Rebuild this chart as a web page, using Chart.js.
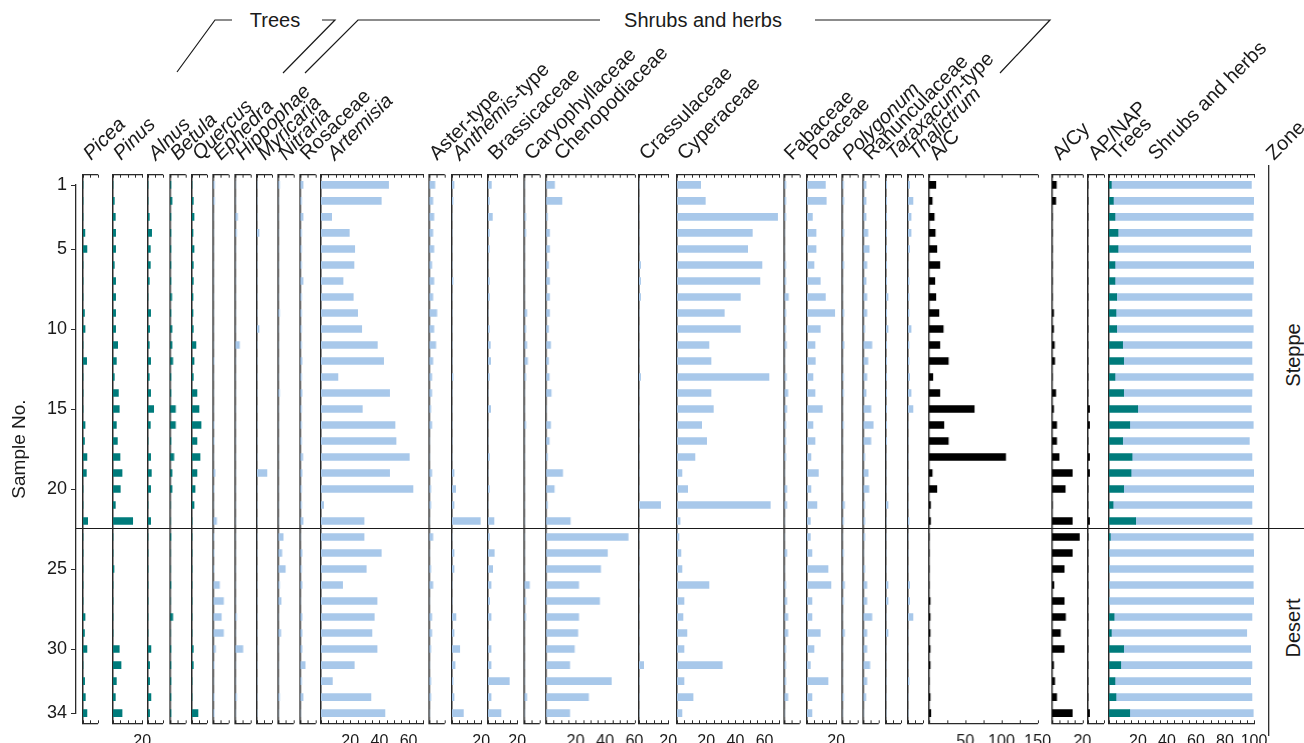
<!DOCTYPE html>
<html>
<head>
<meta charset="utf-8">
<script src="https://cdn.jsdelivr.net/npm/chart.js@4.4.0/dist/chart.umd.min.js"></script>
<style>
body { margin:0; background:#fff; width:1304px; height:743px; overflow:hidden; position:relative;
       font-family:"Liberation Sans", Arial, sans-serif; color:#1a1a1a; }
.pn { position:absolute; }
.lab { position:absolute; white-space:nowrap; transform-origin:0 100%; font-size:20px; line-height:20px; }
.grp { position:absolute; font-size:20px; white-space:nowrap; transform:translate(-50%,-50%); }
.zone { position:absolute; font-size:20px; white-space:nowrap; transform:translate(-50%,-50%) rotate(-90deg); }
</style>
</head>
<body>
<svg id="deco" width="1304" height="743" style="position:absolute;left:0;top:0">
  <g stroke="#1a1a1a" stroke-width="1.2" fill="none">
    <polyline points="232,20 215,20 177,72"/>
    <polyline points="322,20 335,20 283,73"/>
    <polyline points="600,20 358,20 305,73"/>
    <polyline points="815,20 1050,20 1000,73"/>
    <line x1="76" y1="528.5" x2="1304" y2="528.5"/>
    <line x1="1268.7" y1="165" x2="1268.7" y2="736"/>
  </g>
</svg>
<div class="grp" style="left:275px;top:20px">Trees</div>
<div class="grp" style="left:703px;top:20px">Shrubs and herbs</div>
<div class="zone" style="left:1293px;top:355px">Steppe</div>
<div class="zone" style="left:1293px;top:628px">Desert</div>
<div id="wrap"></div>

<script>
// sample numbers (y axis)
const samples = [1,2,3,4,5,6,7,8,9,10,11,12,13,14,15,16,17,18,19,20,21,22,23,24,25,26,27,28,29,30,31,32,33,34];
const yTicks = [1,5,10,15,20,25,30,34];

// trees (%)
const picea   = [0,0,0,1.3,2.7,0,0,0,1,1.4,0,2.5,0,0,0,1.4,1,2.7,2.3,0,0,3.2,0,0,0,0,0,1.4,1,2.7,0,1.1,1.6,2.7];
const pinus   = [0,0.9,1.6,1.8,1.8,0.9,1.8,1.8,1.8,1.8,3.2,2.3,0.9,3.7,4.3,2.3,3.0,4.8,6.2,5.0,1.6,13.5,0,0,0.7,0,0,0,0,4.3,5.5,2.3,1.6,6.2];
const alnus   = [0,0,0.9,2.5,1.6,1.6,0.9,0,1.8,1.1,0.9,1.8,0.9,1.8,3.9,1.6,0,1.8,2.3,1.8,0,1.8,0,0,0,0,0,0,0,2.0,1.1,1.1,2.0,1.1];
const betula  = [0.4,1.1,0.4,0.4,0.4,0.4,0.4,0.9,0.4,1.1,1.1,1.6,0.4,0.4,3.4,3.4,0.4,2.3,1.1,1.1,0,0,0.4,0,0,0.4,0,1.6,0,0.4,0.4,0.4,0.4,0.4];
const quercus = [0,0.9,1.4,0.7,1.4,0.9,0.9,0.7,0.7,0.9,2.7,1.4,0.9,3.4,4.8,6.2,3.4,5.5,3.4,2.1,1.4,0,0,0,0,0,0,0,0,0.9,0.9,0,0,4.1];

// shrubs and herbs (%)
const ephedra   = [0.7,0.7,0,0,0,0,0,0,0,0,0,0.3,0,0,0,0.4,0.4,0,1.1,0.4,0,2.1,0.4,0.4,0.4,4.1,6.8,5.3,6.8,1.4,0.5,0,0.5,0.5];
const hippophae = [0,0,1.4,0.7,0,0,0,0,0,0,2.7,0,0,0,0,0,0,0,0,0,0,0,0,0,0,0,0,0.7,0,5.0,0,0,0.7,0];
const myricaria = [0,0,0,1.4,0,0,0,0,0,1.4,0,0,0,0,0,0,0,0,6.8,0,0,0,0,0,0,0,0,0,0,0,0,0,0,0];
const nitraria  = [0.7,0,0,0,0,0,0,0,0.7,0,0,0,0,0.7,0,0,0,0,0,0,0,0,3.2,2.3,4.6,0.7,1.8,0,1.6,0,0,0,0.7,0];
const rosaceae  = [1.8,0.7,1.8,0.7,0.7,0.7,1.8,0.7,0.7,0.7,0.7,1.1,0.7,1.1,0.7,0.7,0.7,1.6,1.1,0.7,0.7,1.8,0,1.1,0.7,1.1,0,1.1,1.1,1.1,3.2,0.7,1.8,0];
const artemisia = [46.3,41.3,7.3,19.4,23.1,22.6,15.1,22.1,25.1,27.9,38.6,42.9,11.6,47,28.3,50.7,51.4,60.5,47,63,1.8,29.5,29.5,41.3,31,14.8,38.4,36.5,34.9,38.4,22.8,7.8,34.2,43.8];
const aster     = [3.7,2.3,3.0,2.3,3.0,1.6,3.0,2.3,5.0,3.0,4.3,2.3,1.6,1.6,0.9,1.6,0,0,1.6,0.9,0.9,0,2.3,0,0.9,2.3,0,1.6,1.6,0.9,0,0.9,0.9,0];
const anthemis  = [1.4,0.7,0,0,0,0,0.7,0,0,0,0,0,0.7,0,0,0,0,0,1.4,2.5,1.4,19.4,0,1.4,1.4,0,0,2.7,1.4,5.3,2.1,0.7,1.4,7.8];
const brassicaceae = [2.3,0.9,3.0,0.9,0.9,0,0.9,0.9,0,0.9,1.6,1.8,0.9,0,1.8,0,0,0.9,0,0.9,0,4.1,1.0,4.3,3.2,2.1,1.1,2.1,0,2.1,2.1,14.6,2.1,8.9];
const caryophyllaceae = [0,0,0.9,0.9,0,0,0,0,1.6,0.9,1.6,2.1,0.9,0,0,0.9,0,0,0,0,0,0,0,0,0,3.4,0.9,0.9,0,0,0,0,1.6,0];
const chenopodiaceae = [5.7,10.7,0.9,2.3,2.3,1.6,2.3,2.3,2.3,1.6,3.0,1.6,2.1,3.4,0,3.0,2.1,0.9,11.2,5.5,0.9,16.4,55.7,41.6,37,22.1,36.3,22.1,21.5,19.2,16,44.3,28.8,16];
const crassulaceae = [0,0,0,0,0,1.1,1.1,1.1,0,0,0,0,1.1,0,0,0,0,0,0,0,14.8,0,0,0,0,0,0,0,0,0,3.2,0,0,0];
const cyperaceae = [16.2,19.4,68.9,51.6,48.4,58.2,56.8,43.4,32.4,43.4,21.9,23.3,63,23.3,24.9,16.9,20.3,12.3,3.4,7.3,63.9,2.1,1.4,2.7,3.4,21.9,4.8,4.1,6.8,4.8,31,4.8,11,3.4];
const fabaceae  = [0.9,0.9,0.9,0,0,0.9,0.9,2.7,0.9,0.9,1.4,0,1.4,2.3,1.6,0.9,0.9,0.9,0,1.6,1.6,0,0,1.6,0,0.9,1.6,2.3,2.3,0.9,0.9,0.9,2.3,0];
const poaceae   = [12.6,13.2,3.7,6.2,6.2,4.8,9.1,12.6,19,9.1,5.5,5.7,4.1,5.5,10.5,4.1,5.5,2.7,7.8,2.7,6.8,2.3,2.3,3.4,14.4,16.4,3.4,3.4,9.1,4.8,2.3,14.4,3.4,3.4];
const polygonum = [0.7,0.9,0,0.9,0,0.9,0,0,0.9,0,1.1,0,0.7,0.7,0,0.7,0,0,0,0,1.4,0.7,0,0.7,0,1.4,0.7,0,1.4,0,0,0,0.7,0];
const ranunculaceae = [1.8,1.8,1.8,3.0,3.9,2.3,1.8,2.3,2.3,0.9,5.7,3.0,2.3,1.8,5.0,6.6,5.0,0.9,3.2,3.7,0.9,0.9,0.9,0,0.9,2.3,2.3,5.7,2.3,2.3,4.3,2.3,1.6,0];
const taraxacum = [0.5,0.5,0.5,0.5,0.5,0.5,0.5,1.4,0.5,1.4,0.5,0.5,0.5,0.5,0.5,0.5,0.5,0,0,0,1.4,0,0,0,0,1.4,1.4,0,1.4,0,0,0,0,0];
const thalictrum = [1.1,3.4,2.1,2.1,1.1,0,0.7,0.7,0.7,2.1,0.7,0.7,1.1,2.1,3.4,0,0,0,0,0,0,0.7,0,0,0,1.1,1.1,3.4,0,0,0,0.7,0,0];

// ratios
const ac    = [9.3,4.2,7.0,8.4,10.7,14.8,7.9,9.3,13.5,19.5,14.8,26.5,5.1,14.8,62.3,20.4,26.5,105.8,4.2,10.7,1.9,1.9,0,0,0,0,1.4,1.4,1.4,1.4,1.4,0,1.4,2.3];
const acy   = [2.7,2.3,0,0,0,0,0,0,0.9,0.9,1.4,1.6,0,2.3,0.9,2.9,2.9,4.5,13.3,8.6,0,13.3,18,13.3,7.9,1.1,7.9,8.8,5.4,7.9,0.9,1.6,2.9,13.3];
const apnap = [0,0,0,0,0,0,0,0,0,0,0,0,0,0,0.1,0.1,0,0.1,0.1,0,0,0.1,0,0,0,0,0,0,0,0,0,0,0,0.1];

// sums (%)
const trees  = [1.6,3.0,4.1,6.2,6.2,4.1,4.1,5.3,4.8,5.3,9.4,10.1,4.1,10.1,19.8,14.3,9.4,15.9,15.2,10.1,2.8,18.4,0.9,0,0,0,0,3.5,1.6,10.1,8.1,4.1,4.8,14.3];
const shrubs = [96.6,97,95.4,92.4,91.5,95.9,95.4,93.3,93.8,94.2,89.2,88.5,95.4,88.5,78.4,85.2,87.4,82.7,84.8,89.9,95.8,80.2,98.6,100,99.5,99.5,100,95.1,93.4,87.6,90.5,93.6,93.8,85.2];

const TEAL = '#007b7b', BLUE = '#a8c8ea', BLACK = '#000000', AXIS = '#2a2a2a';
const FONT = '"Liberation Sans", Arial, sans-serif';
const PCT = 1.46;          // px per percent
const CT = 164, CH = 579;  // canvas top / height
const TOPH = 10.7, BOTH = 19.7;
const PAD = 18;

const panels = [
  {name:'<i>Picea</i>', x:82.7, max:10, ds:[[picea, TEAL]]},
  {name:'<i>Pinus</i>', x:112.7, max:20, ds:[[pinus, TEAL]], lbl:[20]},
  {name:'<i>Alnus</i>', x:147.7, max:10, ds:[[alnus, TEAL]]},
  {name:'<i>Betula</i>', x:170, max:10, ds:[[betula, TEAL]]},
  {name:'<i>Quercus</i>', x:191.7, max:10, ds:[[quercus, TEAL]]},
  {name:'<i>Ephedra</i>', x:213.3, max:10, ds:[[ephedra, BLUE]]},
  {name:'<i>Hippophae</i>', x:235.3, max:10, ds:[[hippophae, BLUE]]},
  {name:'<i>Myricaria</i>', x:256.7, max:10, ds:[[myricaria, BLUE]]},
  {name:'<i>Nitraria</i>', x:278.3, max:10, ds:[[nitraria, BLUE]]},
  {name:'Rosaceae', x:300, max:10, ds:[[rosaceae, BLUE]]},
  {name:'<i>Artemisia</i>', x:321.3, max:70, ds:[[artemisia, BLUE]], lbl:[20,40,60], dx:6},
  {name:'Aster-type', x:429.3, max:10, ds:[[aster, BLUE]]},
  {name:'<i>Anthemis</i>-type', x:451.7, max:20, ds:[[anthemis, BLUE]], lbl:[20]},
  {name:'Brassicaceae', x:487.7, max:20, ds:[[brassicaceae, BLUE]], lbl:[20]},
  {name:'Caryophyllaceae', x:524.3, max:10, ds:[[caryophyllaceae, BLUE]]},
  {name:'Chenopodiaceae', x:546, max:60, ds:[[chenopodiaceae, BLUE]], lbl:[20,40,60], dx:8},
  {name:'Crassulaceae', x:639.3, max:20, ds:[[crassulaceae, BLUE]], lbl:[20]},
  {name:'Cyperaceae', x:676.7, max:70, ds:[[cyperaceae, BLUE]], lbl:[20,40,60]},
  {name:'Fabaceae', x:784, max:10, ds:[[fabaceae, BLUE]]},
  {name:'Poaceae', x:806.7, max:20, ds:[[poaceae, BLUE]], lbl:[20]},
  {name:'<i>Polygonum</i>', x:842.3, max:10, ds:[[polygonum, BLUE]]},
  {name:'Ranunculaceae', x:863.3, max:10, ds:[[ranunculaceae, BLUE]]},
  {name:'<i>Taraxacum</i>-type', x:885.7, max:10, ds:[[taraxacum, BLUE]]},
  {name:'<i>Thalictrum</i>', x:907.7, max:10, ds:[[thalictrum, BLUE]]},
  {name:'A/C', x:929.3, max:150, w:107.7, step:25, ds:[[ac, BLACK]], lbl:[50,100,150]},
  {name:'A/Cy', x:1052, max:20, w:29.6, ds:[[acy, BLACK]], lbl:[20]},
  {name:'AP/NAP', x:1087.7, max:1, w:15.6, step:0.5, ds:[[apnap, BLACK]]},
  {name:'Trees', x:1109.3, max:100, w:145, ds:[[trees, TEAL],[shrubs, BLUE]], lbl:[20,40,60,80,100], stacked:true}
];

// inward tick marks on top and bottom axes
const inTicks = {
  id: 'inTicks',
  afterDraw(chart) {
    const s = chart.scales.x, {top, bottom} = chart.chartArea, ctx = chart.ctx;
    ctx.save();
    ctx.strokeStyle = AXIS; ctx.lineWidth = 1;
    s.ticks.forEach(t => {
      const px = Math.round(s.getPixelForValue(t.value)) + 0.5;
      ctx.beginPath();
      ctx.moveTo(px, top); ctx.lineTo(px, top + 3);
      ctx.moveTo(px, bottom); ctx.lineTo(px, bottom - 3);
      ctx.stroke();
    });
    ctx.restore();
  }
};

function addCanvas(left, width) {
  const d = document.createElement('div');
  d.className = 'pn';
  d.style.left = left + 'px'; d.style.top = CT + 'px';
  d.style.width = width + 'px'; d.style.height = CH + 'px';
  const c = document.createElement('canvas');
  d.appendChild(c);
  document.getElementById('wrap').appendChild(d);
  return c;
}

function addHeader(html, x) {
  const l = document.createElement('div');
  l.className = 'lab';
  l.innerHTML = html;
  l.style.left = x + 'px';
  l.style.top = (163 - 20) + 'px';
  l.style.transform = 'rotate(-45deg)';
  document.body.appendChild(l);
}

// y axis with sample numbers
new Chart(addCanvas(0, 78), {
  type: 'bar',
  data: { labels: [], datasets: [] },
  options: {
    animation: false, responsive: true, maintainAspectRatio: false,
    layout: { padding: { top: 185 - CT, bottom: CT + CH - 713, left: 0, right: 0 } },
    plugins: { legend: { display: false }, tooltip: { enabled: false } },
    scales: {
      x: { display: false },
      y: {
        type: 'linear', min: 1, max: 34, reverse: true, offset: false,
        afterBuildTicks: a => { a.ticks = yTicks.map(v => ({ value: v })); },
        afterFit: a => { a.width = 76; },
        ticks: { font: { family: FONT, size: 18 }, color: '#1a1a1a', padding: 4 },
        grid: { display: true, drawOnChartArea: false, tickLength: 5, color: AXIS },
        border: { display: true, color: AXIS, width: 1.3 },
        title: { display: true, text: 'Sample No.', font: { family: FONT, size: 19 }, color: '#1a1a1a', padding: { top: 8, bottom: 0 } }
      }
    }
  }
});

panels.forEach(p => {
  const w = p.w || p.max * PCT;
  const step = p.step || 5;
  const lbl = p.lbl || [];
  const canvas = addCanvas(p.x - PAD, w + 2 * PAD);
  new Chart(canvas, {
    type: 'bar',
    data: {
      labels: samples,
      datasets: p.ds.map(([d, col]) => ({ data: d, backgroundColor: col, barThickness: 7, borderWidth: 0 }))
    },
    options: {
      indexAxis: 'y', animation: false, responsive: true, maintainAspectRatio: false,
      layout: { padding: { left: PAD, right: PAD, top: 0, bottom: 0 } },
      plugins: { legend: { display: false }, tooltip: { enabled: false } },
      scales: {
        x: {
          type: 'linear', position: 'bottom', min: 0, max: p.max, stacked: !!p.stacked,
          afterFit: a => { a.height = BOTH; },
          ticks: {
            stepSize: step, autoSkip: false, maxRotation: 0, padding: 1,
            font: { family: FONT, size: 16 }, color: '#1a1a1a',
            callback: v => lbl.includes(v) ? String(v) : ''
          },
          grid: { display: false },
          border: { display: true, color: AXIS, width: 1.3 }
        },
        xt: {
          type: 'linear', position: 'top', min: 0, max: p.max,
          afterFit: a => { a.height = TOPH; },
          ticks: { display: false },
          grid: { display: false },
          border: { display: true, color: AXIS, width: 1.3 }
        },
        y: {
          type: 'linear', min: 0.36, max: 34.64, reverse: true, offset: false, stacked: !!p.stacked,
          afterFit: a => { a.width = 0; },
          ticks: { display: false },
          grid: { display: false },
          border: { display: true, color: AXIS, width: 1.5 }
        }
      }
    },
    plugins: [inTicks]
  });

  addHeader(p.name, p.x + 10 + (p.dx || 0));
});

// extra headers in the sums / zone columns
addHeader('Shrubs and herbs', 1158);
addHeader('Zone', 1276);
</script>
</body>
</html>
